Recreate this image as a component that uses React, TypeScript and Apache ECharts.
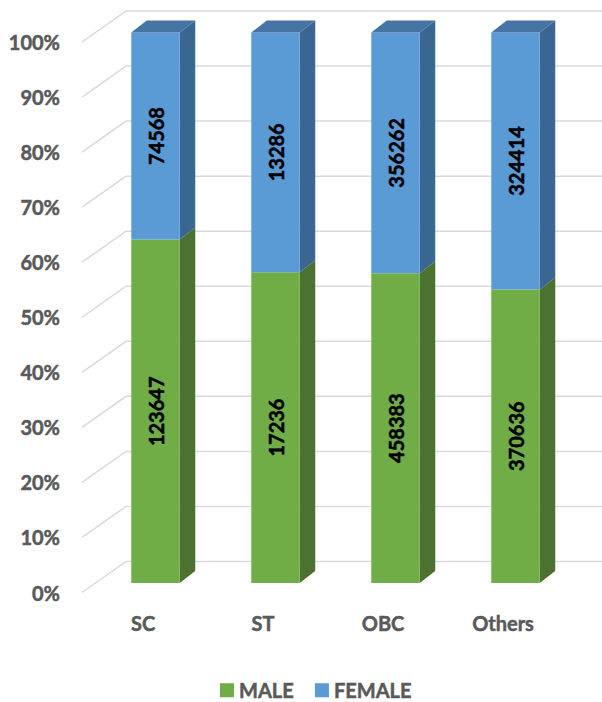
import React, { useEffect, useRef } from 'react';
import * as echarts from 'echarts';

const categories = ['SC', 'ST', 'OBC', 'Others'];
const maleValues = [123647, 17236, 458383, 370636];
const femaleValues = [74568, 13286, 356262, 324414];
const seriesNames = ['MALE', 'FEMALE'];
const percentTicks = [0, 10, 20, 30, 40, 50, 60, 70, 80, 90, 100];

const totals = categories.map((_, i) => maleValues[i] + femaleValues[i]);
const malePct = maleValues.map((v, i) => (v / totals[i]) * 100);

const FONT = 'Lato, "Open Sans", sans-serif';
const FRONT_DX = 12.5;
const FRONT_DY = -9.5;
const DEPTH_DX = 15.5;
const DEPTH_DY = -12;
const WALL_DX = 43;
const WALL_DY = -31;

const grayText = {
  color: '#595959',
  fontWeight: 'bold',
  fontSize: 20,
  fontFamily: FONT,
  textBorderColor: '#595959',
  textBorderWidth: 0.5,
};

function makeBarRender(front: string, side: string, top: string, drawTop: boolean) {
  return (params: any, api: any) => {
    const i = api.value(0);
    const base = api.value(1);
    const end = api.value(2);
    const raw = api.value(3);
    const p0 = api.coord([i, base]);
    const p1 = api.coord([i, end]);
    const band = api.size([1, 0])[0];
    const w = band * 0.404;
    const cx = p0[0] + FRONT_DX;
    const yb = p0[1] + FRONT_DY;
    const yt = p1[1] + FRONT_DY;
    const xl = cx - w / 2;
    const xr = cx + w / 2;
    const children: any[] = [
      {
        type: 'polygon',
        shape: { points: [[xr, yb], [xr + DEPTH_DX, yb + DEPTH_DY], [xr + DEPTH_DX, yt + DEPTH_DY], [xr, yt]] },
        style: { fill: side },
      },
      {
        type: 'rect',
        shape: { x: xl, y: yt, width: w, height: yb - yt },
        style: { fill: front },
      },
    ];
    if (drawTop) {
      children.push({
        type: 'polygon',
        shape: { points: [[xl, yt], [xr, yt], [xr + DEPTH_DX, yt + DEPTH_DY], [xl + DEPTH_DX, yt + DEPTH_DY]] },
        style: { fill: top },
      });
    }
    children.push({
      type: 'text',
      x: cx,
      y: (yb + yt) / 2,
      rotation: Math.PI / 2,
      style: {
        text: String(raw),
        fill: '#000000',
        stroke: '#000000',
        lineWidth: 0.5,
        fontFamily: FONT,
        fontWeight: 'bold',
        fontSize: 20,
        align: 'center',
        verticalAlign: 'middle',
      },
    });
    return { type: 'group', children };
  };
}

export default function App() {
  const ref = useRef<HTMLDivElement>(null);
  useEffect(() => {
    if (!ref.current) return;
    const chart = echarts.init(ref.current, undefined, { renderer: 'svg' });
    const maleData = categories.map((_, i) => [i, 0, malePct[i], maleValues[i]]);
    const femaleData = categories.map((_, i) => [i, malePct[i], 100, femaleValues[i]]);
    const gridData = percentTicks.map((t) => [0, t]);
    chart.setOption({
      animation: false,
      backgroundColor: '#ffffff',
      grid: { left: 83, width: 480, top: 42, height: 550.5 },
      xAxis: {
        type: 'category',
        data: categories,
        axisLine: { show: false },
        axisTick: { show: false },
        axisLabel: { ...grayText, margin: 20 },
      },
      yAxis: {
        type: 'value',
        min: 0,
        max: 100,
        interval: 10,
        axisLine: { show: false },
        axisTick: { show: false },
        splitLine: { show: false },
        axisLabel: { ...grayText, formatter: '{value}%', margin: 23 },
      },
      legend: {
        data: seriesNames,
        left: 220,
        top: 680,
        padding: 0,
        icon: 'rect',
        itemWidth: 14,
        itemHeight: 14,
        itemGap: 21,
        textStyle: { ...grayText },
      },
      series: [
        {
          type: 'custom',
          name: 'grid',
          z: 1,
          silent: true,
          data: gridData,
          encode: { x: 0, y: 1 },
          renderItem: (params: any, api: any) => {
            const y = api.coord([0, api.value(1)])[1];
            const gx = params.coordSys.x;
            return {
              type: 'polyline',
              shape: { points: [[gx - 1, y], [gx + WALL_DX, y + WALL_DY], [api.getWidth(), y + WALL_DY]] },
              style: { stroke: '#d9d9d9', lineWidth: 1.5, fill: 'none' },
            };
          },
        },
        {
          type: 'custom',
          name: seriesNames[0],
          z: 2,
          itemStyle: { color: '#70AD47' },
          data: maleData,
          encode: { x: 0, y: 2 },
          renderItem: makeBarRender('#70AD47', '#4B7230', '#5E9240', false),
        },
        {
          type: 'custom',
          name: seriesNames[1],
          z: 3,
          itemStyle: { color: '#5B9BD5' },
          data: femaleData,
          encode: { x: 0, y: 2 },
          renderItem: makeBarRender('#5B9BD5', '#3A6791', '#4574A5', true),
        },
      ],
    });
    return () => chart.dispose();
  }, []);
  return <div ref={ref} style={{ position: 'fixed', left: 0, top: 0, width: 602, height: 702 }} />;
}
